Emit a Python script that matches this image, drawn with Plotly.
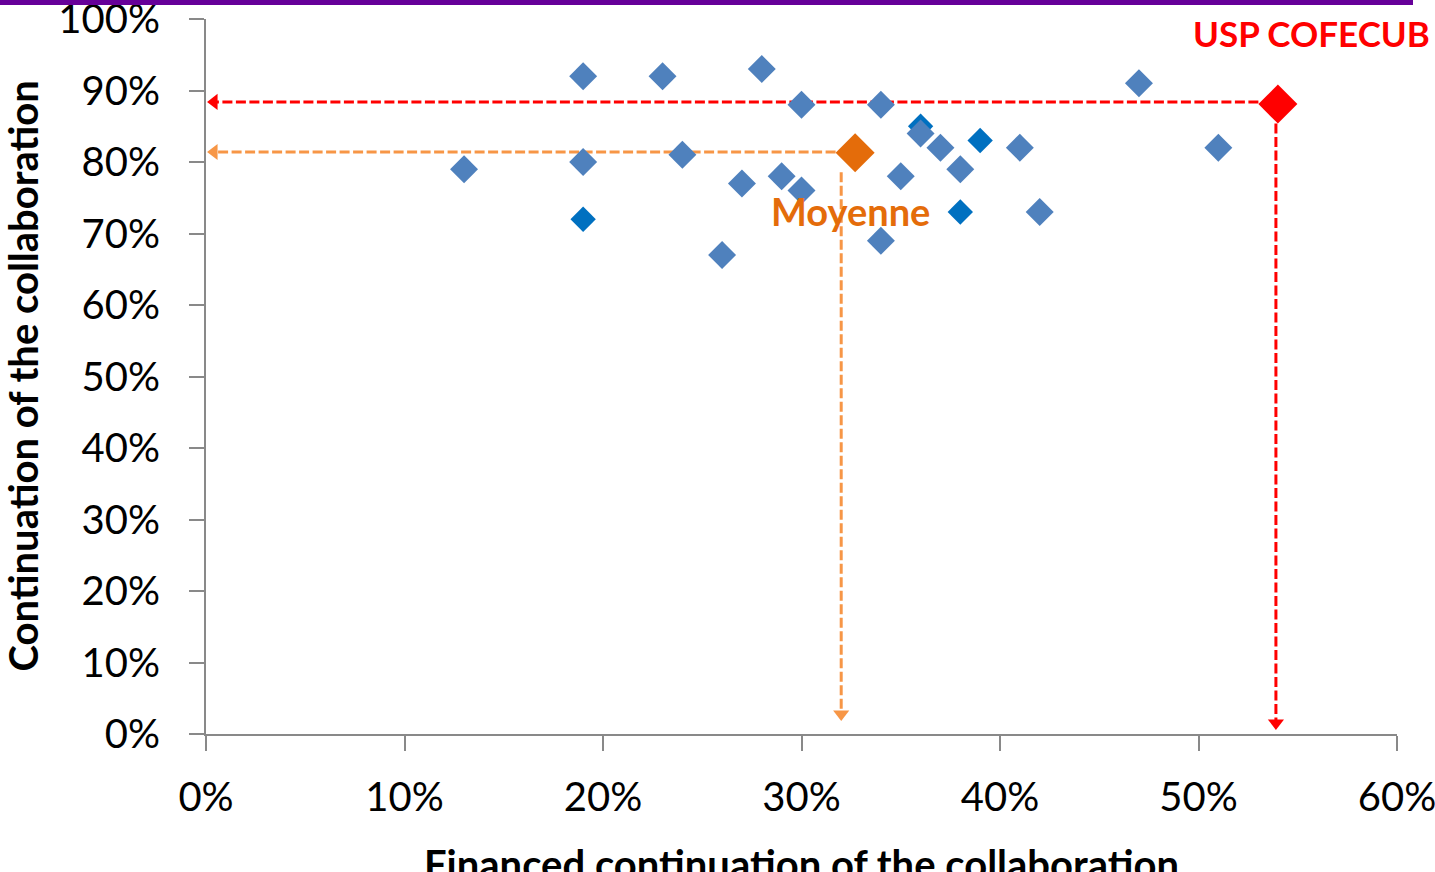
import plotly.graph_objects as go

# ---- data (percent) ----
blue_x = [13, 19, 19, 23, 24, 26, 27, 28, 29, 30, 30, 34, 34, 35, 36, 37, 38, 41, 42, 47, 51]
blue_y = [79, 92, 80, 92, 81, 67, 77, 93, 78, 88, 76, 88, 69, 78, 84, 82, 79, 82, 73, 91, 82]

dark_x = [19, 36, 38, 39]
dark_y = [72, 85, 73, 83]

mean_x = [32.7]
mean_y = [81.3]
mean_guide_x = 32.0
mean_guide_y = 81.4

usp_x = [54.0]
usp_y = [88.1]
usp_guide_x = 53.9
usp_guide_y = 88.4

x_ticks = [0, 10, 20, 30, 40, 50, 60]
y_ticks = [0, 10, 20, 30, 40, 50, 60, 70, 80, 90, 100]
x_labels = [f"{v}%" for v in x_ticks]
y_labels = [f"{v}%" for v in y_ticks]

X_RANGE = [0, 60]
Y_RANGE = [0, 100]

# ---- geometry ----
W, H = 1435, 872
L, R, T, B = 206, 38, 19, 138
PW = W - L - R
PH = H - T - B
px_x = (X_RANGE[1] - X_RANGE[0]) / PW  # data units per pixel (x)
px_y = (Y_RANGE[1] - Y_RANGE[0]) / PH  # data units per pixel (y)

BLUE = "#4F81BD"
DARK = "#0070C0"
ORANGE = "#E46C0A"
ORANGE_L = "#F79646"
RED = "#FF0000"
GREY = "#898989"
FONT = "Lato"

fig = go.Figure()

ARW = 14  # arrowhead marker size
tip_off = ARW / 2 * 1.155  # px from marker centre to tip


def guide(gx, gy, mx, my, msize, color, tip_pad_y):
    half = msize * 1.3 / 2
    # horizontal guide to y axis
    hx = [mx - half * px_x, X_RANGE[0] + tip_off * px_x]
    fig.add_trace(go.Scatter(x=hx, y=[gy, gy], mode="lines",
                             line=dict(color=color, width=3, dash="10px,3.5px"),
                             hoverinfo="skip", showlegend=False, cliponaxis=False))
    fig.add_trace(go.Scatter(x=[hx[1]], y=[gy], mode="markers",
                             marker=dict(symbol="triangle-left", size=ARW, color=color),
                             hoverinfo="skip", showlegend=False, cliponaxis=False))
    # vertical guide to x axis
    vy = [my - half * px_y, Y_RANGE[0] + (tip_pad_y + tip_off) * px_y]
    fig.add_trace(go.Scatter(x=[gx, gx], y=vy, mode="lines",
                             line=dict(color=color, width=3, dash="10px,3.5px"),
                             hoverinfo="skip", showlegend=False, cliponaxis=False))
    fig.add_trace(go.Scatter(x=[gx], y=[vy[1]], mode="markers",
                             marker=dict(symbol="triangle-down", size=ARW, color=color),
                             hoverinfo="skip", showlegend=False, cliponaxis=False))


guide(usp_guide_x, usp_guide_y, usp_x[0], usp_y[0], 30, RED, 3)
guide(mean_guide_x, mean_guide_y, mean_x[0], mean_y[0], 30, ORANGE_L, 12)

fig.add_trace(go.Scatter(x=dark_x, y=dark_y, mode="markers",
                         marker=dict(symbol="diamond", size=19.5, color=DARK),
                         showlegend=False, cliponaxis=False))
fig.add_trace(go.Scatter(x=blue_x, y=blue_y, mode="markers",
                         marker=dict(symbol="diamond", size=21.5, color=BLUE),
                         showlegend=False, cliponaxis=False))
fig.add_trace(go.Scatter(x=mean_x, y=mean_y, mode="markers",
                         marker=dict(symbol="diamond", size=30, color=ORANGE),
                         showlegend=False, cliponaxis=False))
fig.add_trace(go.Scatter(x=usp_x, y=usp_y, mode="markers",
                         marker=dict(symbol="diamond", size=30, color=RED),
                         showlegend=False, cliponaxis=False))

axis_common = dict(showgrid=False, zeroline=False, showline=True, linecolor=GREY,
                   linewidth=2, ticks="outside", ticklen=15, tickwidth=2,
                   tickcolor=GREY, ticklabeloverflow="allow", tickmode="array",
                   tickfont=dict(family=FONT, size=40, color="black"))

fig.update_layout(
    width=W, height=H,
    margin=dict(l=L, r=R, t=T, b=B, autoexpand=False),
    paper_bgcolor="white", plot_bgcolor="white",
    xaxis=dict(range=X_RANGE, tickvals=x_ticks, ticktext=x_labels,
               ticklabelstandoff=12, **axis_common),
    yaxis=dict(range=Y_RANGE, tickvals=y_ticks, ticktext=y_labels,
               ticklabelstandoff=21, **axis_common),
    annotations=[
        dict(text="Moyenne", x=32.45, y=73.2, xref="x", yref="y",
             showarrow=False, xanchor="center", yanchor="middle",
             font=dict(family=FONT, size=38, color=ORANGE, weight="bold")),
        dict(text="USP COFECUB", x=49.6, y=98.0, xref="x", yref="y",
             showarrow=False, xanchor="left", yanchor="middle",
             font=dict(family=FONT, size=35, color=RED, weight="bold")),
        dict(text="Continuation of the collaboration", x=(22 - L) / PW, y=0.5,
             xref="paper", yref="paper", showarrow=False, textangle=-90,
             xanchor="center", yanchor="middle",
             font=dict(family=FONT, size=40, color="black", weight="bold")),
        dict(text="Financed continuation of the collaboration", x=0.5,
             y=(PH + T - 864) / PH, xref="paper", yref="paper", showarrow=False,
             xanchor="center", yanchor="middle",
             font=dict(family=FONT, size=40, color="black", weight="bold")),
    ],
    shapes=[
        dict(type="rect", xref="paper", yref="paper",
             x0=-L / PW, x1=(1413 - L) / PW,
             y0=1 + (T - 5) / PH, y1=1 + (T + 4) / PH,
             fillcolor="#660099", line=dict(width=0), layer="above"),
    ],
)

fig.write_html("out.html", config={"displayModeBar": False},
               post_script="document.body.style.margin='0';document.body.style.overflow='hidden';")
